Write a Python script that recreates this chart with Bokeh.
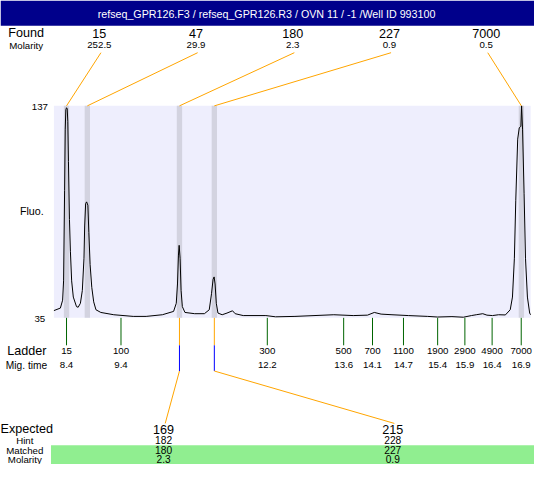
from bokeh.plotting import figure
from bokeh.models import Range1d
from bokeh.core.properties import value
from bokeh.embed import file_html
from bokeh.resources import INLINE

# ---------------- data ----------------
title_text = "refseq_GPR126.F3 / refseq_GPR126.R3 / OVN 11 / -1 /Well ID 993100"

trace_time = [8.174, 8.295, 8.337, 8.355, 8.374, 8.386, 8.397, 8.410, 8.423, 8.434,
              8.446, 8.465, 8.483, 8.506, 8.537, 8.597, 8.628, 8.670, 8.706, 8.737,
              8.750, 8.768, 8.786, 8.810, 8.828, 8.852, 8.883, 8.919, 8.961, 9.052,
              9.295, 9.659, 9.901, 10.205, 10.415, 10.465, 10.488, 10.506, 10.519, 10.537,
              10.555, 10.579, 10.628, 10.810, 10.992, 11.083, 11.125, 11.155, 11.174, 11.192,
              11.215, 11.246, 11.325, 11.415, 11.519, 11.568, 11.719, 12.143, 12.325, 12.688,
              13.415, 13.779, 14.046, 14.174, 14.301, 14.505, 14.810, 15.174, 15.356, 15.628,
              15.841, 15.992, 16.083, 16.205, 16.283, 16.387, 16.501, 16.628, 16.719, 16.761,
              16.797, 16.823, 16.859, 16.888, 16.919, 16.932, 16.950, 16.979, 17.005, 17.041,
              17.083, 17.100]
trace_fu = [38.5, 39.7, 43.5, 52.8, 96.2, 125.8, 135.1, 136.1, 135.6, 129.6,
            110.2, 82.3, 66.8, 52.8, 45.0, 40.4, 40.1, 42.0, 48.2, 63.7,
            79.2, 90.0, 90.8, 89.2, 76.1, 60.6, 49.7, 42.7, 38.9, 37.6,
            36.5, 35.7, 35.7, 36.5, 38.1, 42.0, 51.3, 65.2, 69.9, 63.7,
            48.2, 40.4, 37.6, 37.0, 37.0, 38.9, 46.6, 53.6, 54.7, 51.3,
            42.0, 37.3, 36.5, 37.3, 38.4, 37.0, 36.1, 36.1, 35.5, 35.7,
            36.5, 36.1, 36.3, 37.6, 36.8, 36.5, 36.1, 35.7, 35.4, 35.6,
            35.3, 36.1, 36.5, 37.0, 36.3, 36.1, 36.5, 36.4, 38.9, 45.0,
            63.7, 91.6, 121.0, 126.4, 127.2, 137.0, 125.8, 94.7, 63.7, 45.0,
            37.3, 36.5]

fluo_ticks = [35, 137]

ladder_sizes = [15, 100, 300, 500, 700, 1100, 1900, 2900, 4900, 7000]
ladder_times = [8.41, 9.43, 12.17, 13.60, 14.14, 14.72, 15.36, 15.87, 16.38, 16.925]

found_sizes = [15, 47, 180, 227, 7000]
found_molarity = [252.5, 29.9, 2.3, 0.9, 0.5]
found_times = [8.41, 8.80, 10.525, 11.178, 16.928]

expected_sizes = [169, 215]
hint_sizes = [182, 228]
matched_sizes = [180, 227]
matched_molarity = [2.3, 0.9]
matched_times = [10.525, 11.178]

# ---------------- layout helpers (reference pixel -> data) ----------------
PX_PER_S = 55.0
PX_PER_FU = 2.15
def tx(px):
    return 8.41 + (px - 68.0) / PX_PER_S
def fy(py):
    return 35.0 + (328.3 - py) / PX_PER_FU

FONT = value("Liberation Sans")
S = 0.97  # font scale to fit the 534x464 page

def fs(px):
    return value("%.1fpx" % (px * S))

p = figure(width=534, height=464, x_range=Range1d(tx(0), tx(550)),
           y_range=Range1d(fy(480), fy(0)), x_axis_type=None, y_axis_type=None,
           toolbar_location=None, output_backend="svg", min_border=0,
           outline_line_color=None, background_fill_color="white")
p.xgrid.visible = False
p.ygrid.visible = False

# header bar
p.quad(left=[tx(0)], right=[tx(550)], bottom=[fy(26)], top=[fy(0)],
       fill_color="#00008B", line_color=None)
p.text(x=[tx(274)], y=[fy(13.5)], text=[title_text], text_color="white",
       text_font=FONT, text_font_size=fs(11), text_align="center", text_baseline="middle")

# plot area
p.quad(left=[tx(55)], right=[tx(546)], bottom=[fluo_ticks[0]], top=[fluo_ticks[-1]],
       fill_color="#EEEEFD", line_color=None)
band_w = 0.1
p.quad(left=[t - band_w / 2 for t in found_times], right=[t + band_w / 2 for t in found_times],
       bottom=[fluo_ticks[0]] * len(found_times), top=[fluo_ticks[-1]] * len(found_times),
       fill_color="#D3D3E0", line_color=None)
p.line(trace_time, trace_fu, line_color="black", line_width=1)

# y tick labels and axis title
p.text(x=[tx(40.5)] * len(fluo_ticks), y=fluo_ticks, text=[str(v) for v in fluo_ticks],
       text_font=FONT, text_font_size=fs(10), text_align="center", text_baseline="middle",
       y_offset=1.5, text_color="black")
p.text(x=[tx(20)], y=[fy(218)], text=["Fluo."], text_font=FONT, text_font_size=fs(11),
       text_align="left", text_baseline="middle", text_color="black")

# Found rows
n_found = len(found_sizes)
slot_x = [tx(52 + 498.0 / n_found * (i + 0.5)) for i in range(n_found)]
p.text(x=[tx(8)], y=[fy(34)], text=["Found"], text_font=FONT, text_font_size=fs(13),
       text_align="left", text_baseline="middle", text_color="black")
p.text(x=[tx(9)], y=[fy(46.5)], text=["Molarity"], text_font=FONT, text_font_size=fs(10),
       text_align="left", text_baseline="middle", text_color="black")
p.text(x=slot_x, y=[fy(34)] * n_found, text=[str(v) for v in found_sizes], text_font=FONT,
       text_font_size=fs(13), text_align="center", text_baseline="middle", text_color="black")
p.text(x=slot_x, y=[fy(46.5)] * n_found, text=[str(v) for v in found_molarity], text_font=FONT,
       text_font_size=fs(10), text_align="center", text_baseline="middle", text_color="black")
p.segment(x0=[s + 0.03 for s in slot_x], y0=[fy(54)] * n_found, x1=found_times,
          y1=[fluo_ticks[-1]] * n_found, line_color="orange", line_width=1)

# ladder
n_lad = len(ladder_sizes)
p.segment(x0=ladder_times, y0=[fluo_ticks[0]] * n_lad, x1=ladder_times, y1=[fy(356.7)] * n_lad,
          line_color="#006400", line_width=1)
p.text(x=[tx(7)], y=[fy(363)], text=["Ladder"], text_font=FONT, text_font_size=fs(13),
       text_align="left", text_baseline="middle", text_color="black")
p.text(x=[tx(5.5)], y=[fy(377.5)], text=["Mig. time"], text_font=FONT, text_font_size=fs(10.5),
       text_align="left", text_baseline="middle", text_color="black")
p.text(x=ladder_times, y=[fy(363)] * n_lad, text=[str(v) for v in ladder_sizes], text_font=FONT,
       text_font_size=fs(10), text_align="center", text_baseline="middle", text_color="black")
p.text(x=ladder_times, y=[fy(377.5)] * n_lad, text=["%.1f" % v for v in ladder_times],
       text_font=FONT, text_font_size=fs(10), text_align="center", text_baseline="middle",
       text_color="black")

# matched connectors
n_m = len(matched_times)
exp_x = [tx(168), tx(404)]
p.segment(x0=matched_times, y0=[fluo_ticks[0]] * n_m, x1=matched_times, y1=[fy(356.7)] * n_m,
          line_color="orange", line_width=1)
p.segment(x0=matched_times, y0=[fy(356.7)] * n_m, x1=matched_times, y1=[fy(383.3)] * n_m,
          line_color="blue", line_width=1)
p.segment(x0=matched_times, y0=[fy(383.3)] * n_m, x1=[x + 0.03 for x in exp_x], y1=[fy(437.5)] * n_m,
          line_color="orange", line_width=1)

# expected table
p.quad(left=[tx(52)], right=[tx(550)], bottom=[fy(480)], top=[fy(460)],
       fill_color="#90EE90", line_color=None)
p.text(x=[tx(0)], y=[fy(443.5)], text=["Expected"], text_font=FONT, text_font_size=fs(13),
       text_align="left", text_baseline="middle", text_color="black")
row_labels = ["Hint", "Matched", "Molarity"]
row_y = [fy(455), fy(465), fy(474.5)]
p.text(x=[tx(25)] * 3, y=row_y, text=row_labels, text_font=FONT, text_font_size=fs(10),
       text_align="center", text_baseline="middle", text_color="black")
p.text(x=exp_x, y=[fy(443.5)] * n_m, text=[str(v) for v in expected_sizes], text_font=FONT,
       text_font_size=fs(13), text_align="center", text_baseline="middle", text_color="black")
for vals, yy in zip([hint_sizes, matched_sizes, matched_molarity], row_y):
    p.text(x=exp_x, y=[yy] * n_m, text=[str(v) for v in vals], text_font=FONT,
           text_font_size=fs(10.5), text_align="center", text_baseline="middle", text_color="black")

open("out.html", "w").write(file_html(p, INLINE))
